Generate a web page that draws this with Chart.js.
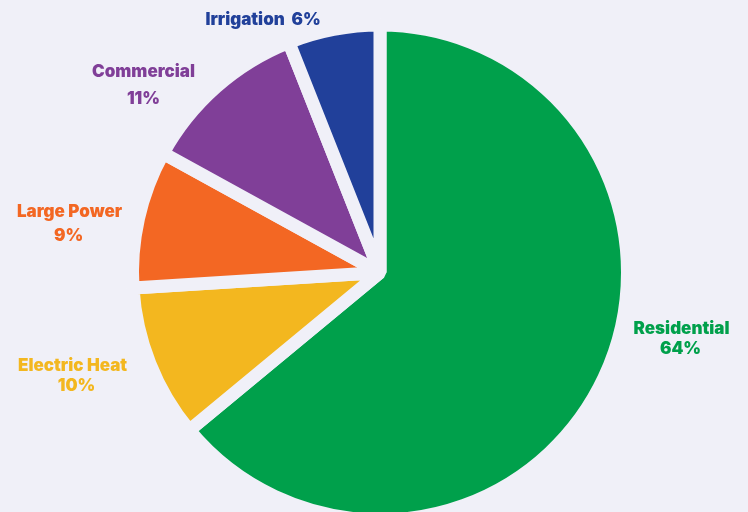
<!DOCTYPE html>
<html>
<head>
<meta charset="utf-8">
<script src="https://cdn.jsdelivr.net/npm/chart.js@4.4.1/dist/chart.umd.min.js"></script>
<style>
  html, body { margin: 0; padding: 0; background: #f0f0f8; }
  #wrap { width: 748px; height: 512px; }
</style>
</head>
<body>
<div id="wrap"><canvas id="pie"></canvas></div>
<script>
// datos del gráfico
const categorias = ['Residential', 'Electric Heat', 'Large Power', 'Commercial', 'Irrigation'];
const porcentajes = [64, 10, 9, 11, 6];
const colores = ['#00a04b', '#f3b71f', '#f36723', '#803f98', '#21409a'];

// posición de las etiquetas: ángulo (grados, desde arriba, horario) y distancia al centro
const etiquetaAngulo = [102.2, 251.6, 279.1, 308.5, 335.3];
const etiquetaDist = [308.5, 324, 314.4, 302.2, 279.7];
const etiquetaSalto = [19.5, 20.5, 24.5, 27, 0];
const etiquetaDx2 = [-1, 4, -1, 0, 0];

const fondo = '#f0f0f8';
const tamLetra = 17;

const etiquetasPlugin = {
    id: 'etiquetas',
    afterDraw(chart) {
        const ctx = chart.ctx;
        const meta = chart.getDatasetMeta(0);
        const cx = meta.data[0].x;
        const cy = meta.data[0].y;
        ctx.save();
        ctx.font = '900 ' + tamLetra + 'px Inter, "DejaVu Sans", sans-serif';
        ctx.textAlign = 'center';
        ctx.textBaseline = 'alphabetic';
        const bajar = tamLetra * 0.36;
        categorias.forEach((cat, i) => {
            const a = etiquetaAngulo[i] * Math.PI / 180;
            const x = cx + Math.sin(a) * etiquetaDist[i];
            const y = cy - Math.cos(a) * etiquetaDist[i] + bajar;
            ctx.fillStyle = colores[i];
            const pct = porcentajes[i] + '%';
            if (etiquetaSalto[i] === 0) {
                ctx.fillText(cat + '  ' + pct, x, y);
            } else {
                ctx.fillText(cat, x, y - etiquetaSalto[i] / 2);
                ctx.fillText(pct, x + etiquetaDx2[i], y + etiquetaSalto[i] / 2);
            }
        });
        ctx.restore();
    }
};

new Chart(document.getElementById('pie'), {
    type: 'pie',
    data: {
        labels: categorias,
        datasets: [{
            data: porcentajes,
            backgroundColor: colores,
            borderColor: fondo,
            borderWidth: 13
        }]
    },
    options: {
        responsive: true,
        maintainAspectRatio: false,
        animation: false,
        radius: 247.5,
        layout: { padding: { left: 12, right: 0, top: 33, bottom: 0 } },
        plugins: {
            legend: { display: false },
            tooltip: { enabled: false }
        }
    },
    plugins: [etiquetasPlugin]
});
</script>
</body>
</html>
